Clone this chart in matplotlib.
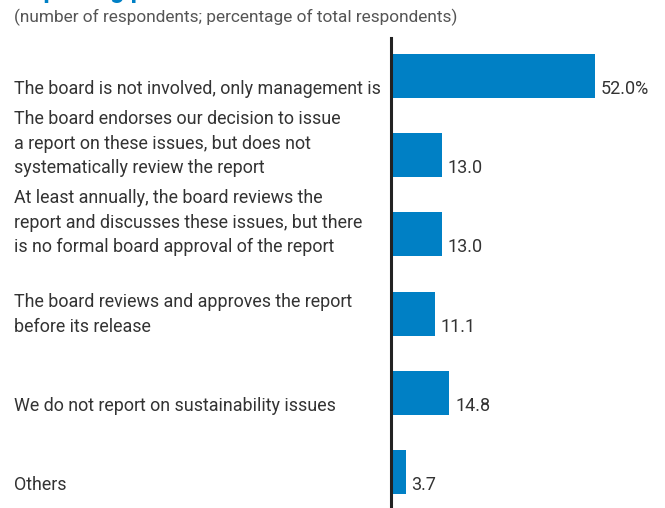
import matplotlib.pyplot as plt
import numpy as np

categories = [
    "The board is not involved, only management is",
    "The board endorses our decision to issue\na report on these issues, but does not\nsystematically review the report",
    "At least annually, the board reviews the\nreport and discusses these issues, but there\nis no formal board approval of the report",
    "The board reviews and approves the report\nbefore its release",
    "We do not report on sustainability issues",
    "Others",
]
values = [52.0, 13.0, 13.0, 11.1, 14.8, 3.7]
value_labels = ["52.0%", "13.0", "13.0", "11.1", "14.8", "3.7"]

blue = "#0080C5"
text_col = "#333333"
font = ["Roboto", "DejaVu Sans"]

fig = plt.figure(figsize=(6.65, 5.08), dpi=100)
# axes start at the vertical baseline line and run to the right edge
ax = fig.add_axes([391 / 665, 0, 1 - 391 / 665, (508 - 38) / 508])

y = np.arange(len(values))
bar_h = 0.556
ax.barh(y, values, height=bar_h, color=blue, align="center")
ax.set_xlim(0, 69.9)
ax.set_ylim(len(values) - 1 + 0.455, -0.48)

for s in ["top", "right", "bottom"]:
    ax.spines[s].set_visible(False)
ax.spines["left"].set_linewidth(2.2)
ax.spines["left"].set_color("#222222")
ax.set_xticks([])
ax.set_yticks([])

for yi, v, lab, cat in zip(y, values, value_labels, categories):
    bottom = yi + bar_h / 2
    ax.annotate(lab, (v, bottom), xytext=(6, 0), textcoords="offset pixels",
                ha="left", va="bottom", fontsize=13, color=text_col, family=font)
    ax.annotate(cat, (14, bottom), xycoords=("figure pixels", "data"),
                xytext=(0, 0), textcoords="offset pixels",
                ha="left", va="bottom", fontsize=12.85, color=text_col,
                family=font, linespacing=1.47)

fig.text(14 / 665, 1 - 17 / 508, "(number of respondents; percentage of total respondents)",
         ha="left", va="center", fontsize=12.4, color="#555555", family=font)
# heading sits mostly above the top edge
fig.text(14 / 665, 1 + 2 / 508, "Reporting practices", ha="left", va="baseline",
         fontsize=18, fontweight="bold", color=blue, family=font)

fig.savefig("out.png", dpi=100)
